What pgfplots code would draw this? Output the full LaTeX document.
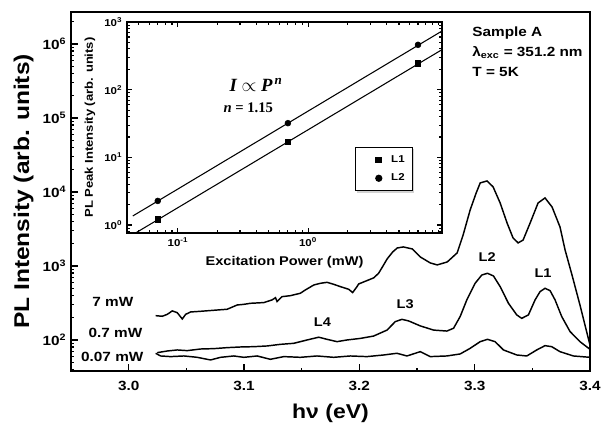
\documentclass[border=0pt]{standalone}
\usepackage{fontspec}
\setmainfont{Liberation Sans}[FakeStretch=1.15]
\newfontfamily\seriffont{Liberation Serif}
\usepackage{pgfplots}
\usepackage{pgfplotstable}
\pgfplotsset{compat=1.18}
\usetikzlibrary{shadows}

% legend entry: a single mark with some room on either side
\pgfplotsset{markonly legend/.style={legend image code/.code={%
  \path (0cm,0cm) (0.69cm,0cm);
  \draw[##1] plot coordinates {(0.45cm,0cm)};}}}

% PL spectra, photon energy (eV) vs intensity (arb. units)
\pgfplotstableread{
x y
3.0234 213
3.0291 209
3.0335 222
3.0378 247
3.0421 234
3.0465 192
3.0494 222
3.0537 239
3.0623 244
3.0739 252
3.0854 260
3.0941 297
3.0999 303
3.1056 313
3.1172 320
3.1244 348
3.1273 373
3.1287 330
3.1330 385
3.1403 397
3.1489 428
3.1532 474
3.1605 553
3.1662 583
3.1720 601
3.1778 565
3.1835 526
3.1908 484
3.1942 437
3.1980 526
3.1994 571
3.2066 634
3.2124 690
3.2167 796
3.2200 968
3.2242 1250
3.2290 1550
3.2329 1750
3.2381 1807
3.2459 1698
3.2528 1324
3.2615 1099
3.2675 1033
3.2762 1132
3.2848 1500
3.2900 2624
3.2961 5715
3.3013 9680
3.3048 13240
3.3108 14090
3.3160 11700
3.3221 7100
3.3281 3810
3.3333 2390
3.3377 2050
3.3420 2240
3.3481 3810
3.3550 7100
3.3610 8300
3.3671 6270
3.3740 3365
3.3784 1645
3.3844 755
3.3913 297
3.3974 124
3.4000 85.5
}\sevenmW

\pgfplotstableread{
x y
3.0248 67.4
3.0335 71.0
3.0421 73.3
3.0508 71.8
3.0623 75.5
3.0739 76.4
3.0854 78.8
3.0970 80.4
3.1085 81.2
3.1201 83.0
3.1316 87.3
3.1431 90.1
3.1547 100
3.1648 109
3.1720 102
3.1807 94.9
3.1893 100
3.2009 105
3.2124 113
3.2240 136
3.2312 177
3.2369 190
3.2427 181
3.2528 155
3.2644 136
3.2759 132
3.2817 144
3.2874 207
3.2932 348
3.3004 583
3.3062 755
3.3111 796
3.3163 733
3.3221 526
3.3293 313
3.3365 218
3.3408 196
3.3466 218
3.3524 348
3.3567 450
3.3610 499
3.3654 464
3.3697 348
3.3755 207
3.3827 130
3.3913 94.9
3.4000 74.8
}\pointsevenmW

\pgfplotstableread{
x y
3.0234 66.1
3.0277 60.8
3.0364 59.6
3.0479 60.8
3.0595 58.3
3.0710 53.7
3.0797 58.3
3.0912 60.8
3.0999 58.3
3.1114 60.8
3.1229 54.8
3.1345 59.6
3.1489 58.3
3.1633 60.8
3.1778 58.3
3.1922 60.8
3.2066 59.6
3.2211 62.7
3.2326 66.1
3.2413 60.8
3.2528 69.5
3.2615 59.6
3.2759 60.8
3.2874 64.7
3.2961 77.1
3.3048 94.9
3.3111 102
3.3177 94.9
3.3250 73.3
3.3365 62.7
3.3452 60.8
3.3538 73.3
3.3610 83.8
3.3668 81.2
3.3740 69.5
3.3856 60.8
3.4000 58.3
}\pointzerosevenmW

% peak intensities vs excitation power
\pgfplotstableread{
p i
0.07 1.21
0.7 17
7 245
}\peakLone
\pgfplotstableread{
p i
0.07 2.27
0.7 32
7 460
}\peakLtwo
% power-law fits, I ~ P^1.15
\pgfplotstableread{
p i
0.045 0.72
11 403
}\fitLone
\pgfplotstableread{
p i
0.045 1.36
11 760
}\fitLtwo

\begin{document}
\bfseries
\begin{tikzpicture}
\path[use as bounding box] (0,0) rectangle (450.75pt,323.25pt);

\begin{axis}[
  at={(53.25pt,45pt)}, anchor=south west,
  width=389.25pt, height=269.25pt, scale only axis,
  xmin=2.95, xmax=3.4,
  ymode=log, ymin=38.1, ymax=2.7e6,
  axis line style={line width=1.3pt},
  xtick={3.0,3.1,3.2,3.3,3.4},
  xticklabels={3.0,3.1,3.2,3.3,3.4},
  minor xtick={3.05,3.15,3.25,3.35},
  ytick={100,1000,10000,100000,1000000},
  yticklabels={10\textsuperscript{2},10\textsuperscript{3},10\textsuperscript{4},10\textsuperscript{5},10\textsuperscript{6}},
  minor ytick={40,50,60,70,80,90,200,300,400,500,600,700,800,900,
    2000,3000,4000,5000,6000,7000,8000,9000,
    20000,30000,40000,50000,60000,70000,80000,90000,
    200000,300000,400000,500000,600000,700000,800000,900000,2000000},
  xtick pos=bottom, ytick pos=left,
  tick align=inside,
  major tick length=5pt, minor tick length=2.6pt,
  every tick/.style={black, line width=1pt},
  tick label style={font=\fontsize{10}{12}\selectfont\bfseries},
  xticklabel style={yshift=-4pt},
  xlabel={hν (eV)},
  ylabel={PL Intensity (arb. units)},
  xlabel style={font=\fontsize{15}{18}\selectfont\bfseries,
    at={(axis description cs:0.5,0)}, anchor=center, yshift=-32pt},
  ylabel style={font=\fontsize{16}{19}\selectfont\bfseries},
  clip=true,
]
\addplot[black, line width=1.1pt] table[x=x, y=y] {\sevenmW};
\addplot[black, line width=1.1pt] table[x=x, y=y] {\pointsevenmW};
\addplot[black, line width=1.1pt] table[x=x, y=y] {\pointzerosevenmW};

\node[anchor=east, inner sep=0pt, font=\fontsize{10}{12}\selectfont\bfseries] at (axis cs:3.0043,326) {7 mW};
\node[anchor=east, inner sep=0pt, font=\fontsize{10}{12}\selectfont\bfseries] at (axis cs:3.0121,124) {0.7 mW};
\node[anchor=east, inner sep=0pt, font=\fontsize{10}{12}\selectfont\bfseries] at (axis cs:3.0130,58.9) {0.07 mW};

\node[inner sep=0pt, font=\fontsize{9.5}{11}\selectfont\bfseries] at (axis cs:3.168,175) {L4};
\node[inner sep=0pt, font=\fontsize{9.5}{11}\selectfont\bfseries] at (axis cs:3.2398,306) {L3};
\node[inner sep=0pt, font=\fontsize{9.5}{11}\selectfont\bfseries] at (axis cs:3.3108,1325) {L2};
\node[inner sep=0pt, font=\fontsize{9.5}{11}\selectfont\bfseries] at (axis cs:3.3593,804) {L1};

\node[anchor=west, align=left, inner sep=0pt, font=\fontsize{10}{15}\selectfont\bfseries]
  at (axis cs:3.2978,7.8e5) {Sample A\\ λ\textsubscript{exc} = 351.2 nm\\ T = 5K};
\end{axis}

\begin{axis}[
  at={(95.25pt,148.5pt)}, anchor=south west,
  width=236.25pt, height=158.25pt, scale only axis,
  xmode=log, ymode=log,
  xmin=0.0406, xmax=10.7, ymin=0.762, ymax=1000,
  axis line style={line width=1.2pt},
  xtick={0.1,1},
  xticklabels={10\textsuperscript{-1},10\textsuperscript{0}},
  minor xtick={0.05,0.06,0.07,0.08,0.09,0.2,0.3,0.4,0.5,0.6,0.7,0.8,0.9,2,3,4,5,6,7,8,9,10},
  ytick={1,10,100,1000},
  yticklabels={10\textsuperscript{0},10\textsuperscript{1},10\textsuperscript{2},10\textsuperscript{3}},
  minor ytick={0.8,0.9,2,3,4,5,6,7,8,9,20,30,40,50,60,70,80,90,200,300,400,500,600,700,800,900},
  tick align=inside,
  major tick length=3.5pt, minor tick length=2pt,
  every tick/.style={black, line width=0.8pt},
  tick label style={font=\fontsize{7.5}{9}\selectfont\bfseries},
  xlabel={Excitation Power (mW)},
  ylabel={PL Peak Intensity (arb. units)},
  xlabel style={font=\fontsize{9.5}{11}\selectfont\bfseries},
  ylabel style={font=\fontsize{8.5}{10}\selectfont\bfseries},
  legend style={at={(0.724,0.408)}, anchor=north west, draw=black, line width=1pt,
    fill=white, font=\fontsize{7.5}{9}\selectfont\bfseries,
    drop shadow={shadow xshift=1.3pt, shadow yshift=-1.3pt, fill=gray!70},
    inner xsep=4pt, inner ysep=4pt, row sep=3pt},
  legend cell align=left,
]
\addplot[black, line width=0.8pt, forget plot] table[x=p, y=i] {\fitLone};
\addplot[black, line width=0.8pt, forget plot] table[x=p, y=i] {\fitLtwo};
\addplot[only marks, mark=square*, mark size=2pt, black, markonly legend]
  table[x=p, y=i] {\peakLone};
\addplot[only marks, mark=*, mark size=2.2pt, black, markonly legend]
  table[x=p, y=i] {\peakLtwo};
\legend{L1, L2}

\node[font=\fontsize{14}{16}\selectfont\seriffont\bfseries\itshape] at (rel axis cs:0.41,0.70)
  {I $\propto$ P\textsuperscript{\,n}};
\node[font=\fontsize{11}{13}\selectfont\seriffont\bfseries] at (rel axis cs:0.385,0.592)
  {\textit{n} = 1.15};
\end{axis}
\end{tikzpicture}
\end{document}
